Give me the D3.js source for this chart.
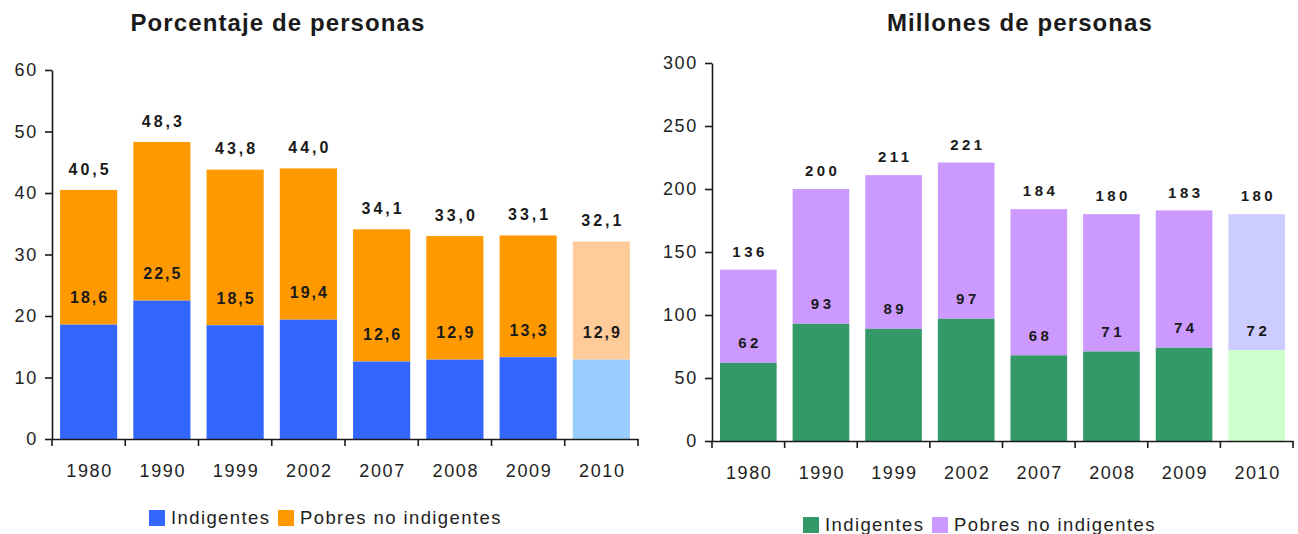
<!DOCTYPE html>
<html>
<head>
<meta charset="utf-8">
<script src="https://cdn.jsdelivr.net/npm/d3@7"></script>
<style>
  body { margin: 0; background: #fff; }
  svg { font-family: "Liberation Sans", Arial, sans-serif; }
  .axis-line { stroke: #1a1a1a; stroke-width: 1.6; }
  .tick-lbl { font-size: 18px; fill: #222; letter-spacing: 1.6px; }
  .val { font-weight: bold; fill: #1a1a1a; }
  .title { font-size: 24px; font-weight: bold; fill: #1a1a1a; letter-spacing: 1.1px; }
  .legend-lbl { font-size: 18.5px; fill: #222; letter-spacing: 1.4px; }
</style>
</head>
<body>
<div id="chart"></div>
<script>
// data
const years = ["1980", "1990", "1999", "2002", "2007", "2008", "2009", "2010"];
const pctIndigentes = [18.6, 22.5, 18.5, 19.4, 12.6, 12.9, 13.3, 12.9];
const pctTotalPobres = [40.5, 48.3, 43.8, 44.0, 34.1, 33.0, 33.1, 32.1];
const millIndigentes = [62, 93, 89, 97, 68, 71, 74, 72];
const millTotalPobres = [136, 200, 211, 221, 184, 180, 183, 180];
const pctTicks = [0, 10, 20, 30, 40, 50, 60];
const millTicks = [0, 50, 100, 150, 200, 250, 300];
const legendNames = ["Indigentes", "Pobres no indigentes"];

var width = 1298,
  height = 534;

var svg = d3.select("#chart").append("svg")
  .attr("width", width)
  .attr("height", height);

var commaFmt = function (v) { return d3.format(".1f")(v).replace(".", ","); };

function drawPanel(cfg) {
  var g = svg.append("g");

  var x = d3.scaleBand()
    .domain(years)
    .range([cfg.x0, cfg.x1])
    .paddingInner(0.22)
    .paddingOuter(0.11);

  var y = d3.scaleLinear()
    .domain([0, d3.max(cfg.ticks)])
    .range([cfg.y0, cfg.y1]);

  var rows = years.map(function (yr, i) {
    return { year: yr, indig: cfg.indig[i], total: cfg.total[i], proj: i === years.length - 1 };
  });

  // upper segment: pobres no indigentes, from indigentes up to total
  g.append("g").selectAll("rect.upper")
    .data(rows)
    .enter().append("rect")
    .attr("x", function (d) { return x(d.year); })
    .attr("width", x.bandwidth())
    .attr("y", function (d) { return y(d.total); })
    .attr("height", function (d) { return y(d.indig) - y(d.total); })
    .attr("fill", function (d) { return d.proj ? cfg.colors[3] : cfg.colors[1]; });

  // lower segment: indigentes
  g.append("g").selectAll("rect.lower")
    .data(rows)
    .enter().append("rect")
    .attr("x", function (d) { return x(d.year); })
    .attr("width", x.bandwidth())
    .attr("y", function (d) { return y(d.indig); })
    .attr("height", function (d) { return y(0) - y(d.indig); })
    .attr("fill", function (d) { return d.proj ? cfg.colors[2] : cfg.colors[0]; });

  // y axis
  var yAxis = g.append("g")
    .attr("transform", "translate(" + cfg.x0 + ",0)")
    .call(d3.axisLeft(y).tickValues(cfg.ticks).tickSize(7).tickPadding(9).tickSizeOuter(0));
  yAxis.select(".domain").attr("class", "domain axis-line");
  yAxis.selectAll("line").attr("class", "axis-line");
  yAxis.selectAll("text").attr("class", "tick-lbl").attr("dx", "0.1em");

  // x axis: labels at band centres, tick marks on band boundaries
  var xAxis = g.append("g")
    .attr("transform", "translate(0," + cfg.y0 + ")")
    .call(d3.axisBottom(x).tickSize(0).tickPadding(25));
  xAxis.select(".domain").attr("class", "domain axis-line");
  xAxis.selectAll("text").attr("class", "tick-lbl").attr("dx", "0.05em");

  g.append("g").selectAll("line")
    .data(d3.range(years.length + 1))
    .enter().append("line")
    .attr("class", "axis-line")
    .attr("x1", function (i) { return cfg.x0 + i * x.step(); })
    .attr("x2", function (i) { return cfg.x0 + i * x.step(); })
    .attr("y1", cfg.y0)
    .attr("y2", cfg.y0 + 7);

  // value labels on top of each bar
  g.append("g").selectAll("text")
    .data(rows)
    .enter().append("text")
    .attr("class", "val")
    .attr("x", function (d) { return x(d.year) + x.bandwidth() / 2 + cfg.topSpacing / 2; })
    .attr("y", function (d) { return y(d.total) - cfg.topGap; })
    .attr("dy", "0.35em")
    .attr("text-anchor", "middle")
    .style("font-size", cfg.valSize + "px")
    .style("letter-spacing", cfg.topSpacing + "px")
    .text(function (d) { return cfg.fmt(d.total); });

  // indigentes values, written just above the lower segment
  g.append("g").selectAll("text")
    .data(rows)
    .enter().append("text")
    .attr("class", "val")
    .attr("x", function (d) { return x(d.year) + x.bandwidth() / 2 + cfg.innerSpacing / 2; })
    .attr("y", function (d) { return y(d.indig) - cfg.innerGap; })
    .attr("dy", "0.35em")
    .attr("text-anchor", "middle")
    .style("font-size", cfg.valSize + "px")
    .style("letter-spacing", cfg.innerSpacing + "px")
    .text(function (d) { return cfg.fmt(d.indig); });

  // title
  g.append("text")
    .attr("class", "title")
    .attr("x", cfg.titleX)
    .attr("y", 31)
    .attr("text-anchor", "middle")
    .text(cfg.title);

  // legend
  var lg = g.append("g")
    .attr("transform", "translate(" + cfg.legendX + "," + cfg.legendY + ")");
  var offsets = [0, 129];
  legendNames.forEach(function (name, i) {
    lg.append("rect")
      .attr("x", offsets[i])
      .attr("y", -8)
      .attr("width", 16)
      .attr("height", 16)
      .attr("fill", cfg.colors[i]);
    lg.append("text")
      .attr("class", "legend-lbl")
      .attr("x", offsets[i] + 22)
      .attr("y", 0)
      .attr("dy", "0.35em")
      .text(name);
  });
}

drawPanel({
  x0: 52, x1: 638, y0: 439, y1: 70,
  ticks: pctTicks,
  indig: pctIndigentes,
  total: pctTotalPobres,
  colors: ["#3366FF", "#FF9900", "#99CCFF", "#FFCC99"],
  fmt: commaFmt,
  valSize: 16, topSpacing: 3, innerSpacing: 2,
  topGap: 21, innerGap: 27,
  title: "Porcentaje de personas", titleX: 278,
  legendX: 149, legendY: 518
});

drawPanel({
  x0: 712, x1: 1293, y0: 441, y1: 63,
  ticks: millTicks,
  indig: millIndigentes,
  total: millTotalPobres,
  colors: ["#339966", "#CC99FF", "#CCFFCC", "#CCCCFF"],
  fmt: d3.format("d"),
  valSize: 15, topSpacing: 3.5, innerSpacing: 3.5,
  topGap: 18, innerGap: 20,
  title: "Millones de personas", titleX: 1020,
  legendX: 803, legendY: 525
});
</script>
</body>
</html>
